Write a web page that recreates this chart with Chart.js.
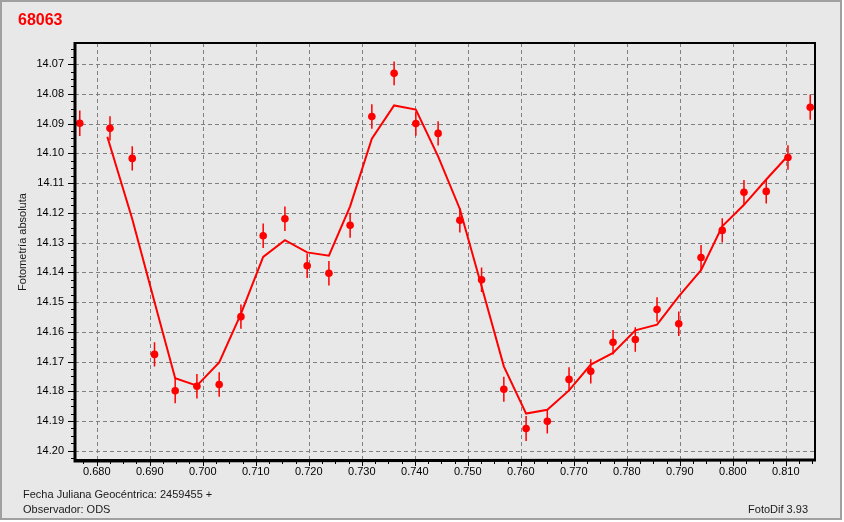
<!DOCTYPE html>
<html>
<head>
<meta charset="utf-8">
<script src="https://cdn.jsdelivr.net/npm/chart.js@4.4.0/dist/chart.umd.min.js"></script>
<style>
  html, body { margin: 0; padding: 0; background: #ffffff; }
  canvas { display: block; }
</style>
</head>
<body>
<canvas id="myChart" width="844" height="522"></canvas>
<script>
// Observations: JD fraction, magnitude and error bar
const obsJD = [0.6768, 0.6825, 0.6867, 0.6909, 0.6948, 0.6989, 0.7031, 0.7072, 0.7114, 0.7155,
               0.7197, 0.7238, 0.7278, 0.7319, 0.7361, 0.7402, 0.7444, 0.7485, 0.7526, 0.7568,
               0.7610, 0.7650, 0.7691, 0.7732, 0.7774, 0.7816, 0.7857, 0.7898, 0.7940, 0.7980,
               0.8021, 0.8063, 0.8104, 0.8146];
const obsMag = [14.0899, 14.0916, 14.1017, 14.1676, 14.1798, 14.1783, 14.1777, 14.1549, 14.1277, 14.1220,
                14.1378, 14.1403, 14.1242, 14.0876, 14.0731, 14.0900, 14.0933, 14.1225, 14.1425, 14.1793,
                14.1925, 14.1901, 14.1760, 14.1733, 14.1635, 14.1626, 14.1525, 14.1573, 14.1350, 14.1259,
                14.1131, 14.1128, 14.1014, 14.0845];
const obsErr = [0.0043, 0.0041, 0.0041, 0.0041, 0.0042, 0.0041, 0.0041, 0.0041, 0.0041, 0.0041,
                0.0041, 0.0041, 0.0042, 0.0041, 0.0040, 0.0041, 0.0041, 0.0041, 0.0041, 0.0042,
                0.0042, 0.0041, 0.0041, 0.0041, 0.0041, 0.0041, 0.0041, 0.0041, 0.0042, 0.0041,
                0.0041, 0.0041, 0.0041, 0.0042];

// Fitted curve
const fitJD = [0.6820, 0.6867, 0.6909, 0.6948, 0.6989, 0.7031, 0.7072, 0.7114, 0.7155, 0.7197,
               0.7238, 0.7278, 0.7319, 0.7361, 0.7402, 0.7444, 0.7485, 0.7526, 0.7568, 0.7610,
               0.7650, 0.7691, 0.7732, 0.7774, 0.7816, 0.7857, 0.7898, 0.7940, 0.7980, 0.8021,
               0.8063, 0.8104];
const fitMag = [14.0944, 14.1221, 14.1500, 14.1756, 14.1781, 14.1703, 14.1540, 14.1348, 14.1292, 14.1333,
                14.1344, 14.1178, 14.0951, 14.0839, 14.0853, 14.1010, 14.1187, 14.1447, 14.1716, 14.1875,
                14.1862, 14.1797, 14.1710, 14.1671, 14.1595, 14.1576, 14.1481, 14.1393, 14.1245, 14.1173,
                14.1088, 14.1008];

// Tick labels
const xTickValues = [0.680, 0.690, 0.700, 0.710, 0.720, 0.730, 0.740, 0.750, 0.760, 0.770, 0.780, 0.790, 0.800, 0.810];
const yTickValues = [14.07, 14.08, 14.09, 14.10, 14.11, 14.12, 14.13, 14.14, 14.15, 14.16, 14.17, 14.18, 14.19, 14.20];

const starName = '68063';
const yTitle = 'Fotometría absoluta';
const footLeft1 = 'Fecha Juliana Geocéntrica: 2459455 +';
const footLeft2 = 'Observador: ODS';
const footRight = 'FotoDif 3.93';

const FONT = '"Liberation Sans", Arial, sans-serif';
const RED = '#ff0000';

Chart.defaults.font.family = FONT;
Chart.defaults.font.size = 11;
Chart.defaults.color = '#000000';

// background, grid, frame and texts
const framePlugin = {
    id: 'frame',
    beforeDraw(chart) {
        const ctx = chart.ctx;
        ctx.save();
        ctx.fillStyle = '#e8e8e8';
        ctx.fillRect(0, 0, 842, 520);
        ctx.strokeStyle = '#a0a0a0';
        ctx.lineWidth = 2;
        ctx.strokeRect(1, 1, 840, 518);

        ctx.fillStyle = RED;
        ctx.font = 'bold 16px ' + FONT;
        ctx.textAlign = 'left';
        ctx.textBaseline = 'alphabetic';
        ctx.fillText(starName, 18, 25);

        ctx.fillStyle = '#1a1a1a';
        ctx.font = '11px ' + FONT;
        ctx.fillText(footLeft1, 23, 498);
        ctx.fillText(footLeft2, 23, 513);
        ctx.textAlign = 'right';
        ctx.fillText(footRight, 808, 513);

        ctx.translate(26, 242);
        ctx.rotate(-Math.PI / 2);
        ctx.textAlign = 'center';
        ctx.fillText(yTitle, 0, 0);
        ctx.restore();
    },
    beforeDatasetsDraw(chart) {
        const ctx = chart.ctx;
        const a = chart.chartArea;
        const sx = chart.scales.x, sy = chart.scales.y;
        ctx.save();
        ctx.strokeStyle = '#808080';
        ctx.lineWidth = 1;
        ctx.setLineDash([4, 3]);
        ctx.beginPath();
        xTickValues.forEach(v => {
            const px = Math.round(sx.getPixelForValue(v)) + 0.5;
            ctx.moveTo(px, a.bottom);
            ctx.lineTo(px, a.top);
        });
        yTickValues.forEach(v => {
            const py = Math.round(sy.getPixelForValue(v)) + 0.5;
            ctx.moveTo(a.left, py);
            ctx.lineTo(a.right, py);
        });
        ctx.stroke();
        ctx.restore();
    },
    afterDraw(chart) {
        const ctx = chart.ctx;
        const a = chart.chartArea;
        const sx = chart.scales.x, sy = chart.scales.y;
        ctx.save();
        ctx.strokeStyle = '#000000';
        ctx.lineWidth = 2;
        ctx.strokeRect(a.left, a.top, a.right - a.left, a.bottom - a.top);
        ctx.lineWidth = 3;
        ctx.beginPath();
        ctx.moveTo(a.left, a.top - 1);
        ctx.lineTo(a.left, a.bottom + 1);
        ctx.lineTo(a.right + 1, a.bottom);
        ctx.stroke();

        // minor and major tick marks
        ctx.lineWidth = 1;
        ctx.beginPath();
        for (let v = 0.6775; v < sx.max; v += 0.0025) {
            const major = Math.abs(v * 100 - Math.round(v * 100)) < 1e-6;
            const px = Math.round(sx.getPixelForValue(v)) + 0.5;
            ctx.moveTo(px, a.bottom + 1);
            ctx.lineTo(px, a.bottom + (major ? 6 : 4));
        }
        for (let v = 14.065; v < sy.max; v += 0.0025) {
            const major = Math.abs(v * 100 - Math.round(v * 100)) < 1e-6;
            const py = Math.round(sy.getPixelForValue(v)) + 0.5;
            ctx.moveTo(a.left - 1, py);
            ctx.lineTo(a.left - (major ? 7 : 4), py);
        }
        ctx.stroke();
        ctx.restore();
    }
};

// vertical error bars under the markers
const errorBarPlugin = {
    id: 'errorBars',
    beforeDatasetsDraw(chart) {
        const ctx = chart.ctx;
        const sx = chart.scales.x, sy = chart.scales.y;
        ctx.save();
        ctx.strokeStyle = RED;
        ctx.lineWidth = 1.5;
        ctx.beginPath();
        obsJD.forEach((jd, i) => {
            const px = sx.getPixelForValue(jd);
            ctx.moveTo(px, sy.getPixelForValue(obsMag[i] - obsErr[i]));
            ctx.lineTo(px, sy.getPixelForValue(obsMag[i] + obsErr[i]));
        });
        ctx.stroke();
        ctx.restore();
    }
};

const data = {
    datasets: [{
        label: 'Observaciones',
        data: obsJD.map((jd, i) => ({ x: jd, y: obsMag[i] })),
        backgroundColor: RED,
        borderColor: RED,
        pointRadius: 3.8,
        pointHoverRadius: 3.8,
        pointBorderWidth: 0,
        showLine: false,
        order: 1
    }, {
        label: 'Ajuste',
        data: fitJD.map((jd, i) => ({ x: jd, y: fitMag[i] })),
        borderColor: RED,
        borderWidth: 2,
        pointRadius: 0,
        showLine: true,
        tension: 0,
        order: 2
    }]
};

const config = {
    type: 'scatter',
    data: data,
    options: {
        responsive: false,
        animation: false,
        devicePixelRatio: 1,
        layout: { padding: { left: 0, top: 43, right: 29, bottom: 0 } },
        plugins: {
            legend: { display: false },
            title: { display: false },
            tooltip: { enabled: false }
        },
        scales: {
            x: {
                type: 'linear',
                min: 0.6759,
                max: 0.8155,
                afterFit: s => { s.height = 62; },
                afterBuildTicks: s => { s.ticks = xTickValues.map(v => ({ value: v })); },
                ticks: {
                    autoSkip: false,
                    maxRotation: 0,
                    padding: 5,
                    color: '#000000',
                    callback: v => Number(v).toFixed(3)
                },
                grid: { display: false, drawTicks: false },
                border: { display: false }
            },
            y: {
                type: 'linear',
                reverse: true,
                min: 14.0629,
                max: 14.2031,
                afterFit: s => { s.width = 75; },
                afterBuildTicks: s => { s.ticks = yTickValues.map(v => ({ value: v })); },
                ticks: {
                    autoSkip: false,
                    padding: 11,
                    color: '#000000',
                    callback: v => Number(v).toFixed(2)
                },
                grid: { display: false, drawTicks: false },
                border: { display: false }
            }
        }
    },
    plugins: [framePlugin, errorBarPlugin]
};

const ctx = document.getElementById('myChart').getContext('2d');
const myChart = new Chart(ctx, config);
</script>
</body>
</html>
